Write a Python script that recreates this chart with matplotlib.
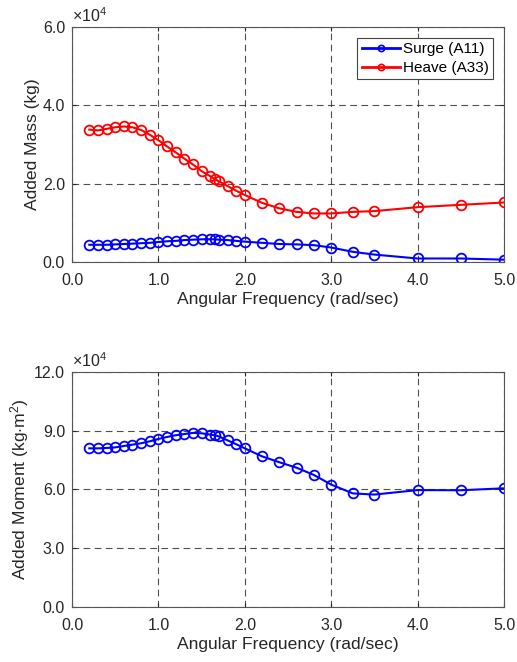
import numpy as np
import matplotlib.pyplot as plt
from matplotlib.ticker import FuncFormatter
from matplotlib.lines import Line2D

plt.rcParams['font.family'] = ['Liberation Sans', 'DejaVu Sans']
plt.rcParams['mathtext.fontset'] = 'custom'
plt.rcParams['mathtext.rm'] = 'Liberation Sans'
plt.rcParams['mathtext.it'] = 'Liberation Sans:italic'

# angular frequency (rad/sec)
omega = [0.2, 0.3, 0.4, 0.5, 0.6, 0.7, 0.8, 0.9, 1.0, 1.1, 1.2, 1.3, 1.4, 1.5,
         1.6, 1.65, 1.7, 1.8, 1.9, 2.0, 2.2, 2.4, 2.6, 2.8, 3.0, 3.25, 3.5,
         4.0, 4.5, 5.0]

# added mass, surge A11 (kg)
a11 = [4400, 4400, 4400, 4500, 4600, 4700, 4800, 4900, 5100, 5300, 5400, 5600,
       5700, 5800, 5800, 5800, 5700, 5600, 5400, 5200, 4900, 4600, 4500, 4300,
       3700, 2600, 1900, 900, 900, 600]

# added mass, heave A33 (kg)
a33 = [33800, 33600, 34000, 34400, 34600, 34400, 33700, 32500, 31100, 29500,
       28000, 26400, 24900, 23200, 21900, 21200, 20600, 19400, 18200, 17100,
       15100, 13700, 12800, 12400, 12400, 12800, 13000, 14000, 14600, 15200]

# added moment A55 (kg*m^2)
a55 = [81000, 81000, 81200, 81500, 82200, 82900, 83600, 84600, 85800, 86800,
       87700, 88300, 88900, 88700, 88000, 87700, 87100, 85100, 83100, 81000,
       76900, 73900, 71100, 67400, 62500, 58000, 57400, 59700, 59600, 60600]

fig = plt.figure(figsize=(5.17, 6.62), dpi=100)
ax1 = fig.add_axes([0.1393, 0.6042, 0.8356, 0.355])
ax2 = fig.add_axes([0.1393, 0.0831, 0.8356, 0.355])

txt = '#262626'
sci = FuncFormatter(lambda v, p: '%.1f' % (v / 1e4))
style = dict(marker='o', markersize=7, markerfacecolor='none',
             markeredgewidth=1.3, linewidth=1.5)

ax1.plot(omega, a11, color='#0000ff', **style)
ax1.plot(omega, a33, color='#ff0000', **style)
ax1.set_ylim(0, 60000)
ax1.set_yticks([0, 20000, 40000, 60000])
ax1.set_ylabel('Added Mass (kg)', fontsize=12.6, color=txt, labelpad=2)

# legend handles with smaller markers
handles = [Line2D([], [], color=c, marker='o', markersize=4.5,
                  markerfacecolor='none', markeredgewidth=1.2, linewidth=2)
           for c in ('#0000ff', '#ff0000')]
leg = ax1.legend(handles, ['Surge (A11)', 'Heave (A33)'], loc='upper right',
                 fontsize=11, fancybox=False, framealpha=1,
                 borderaxespad=0.7, handlelength=2.5, handletextpad=0.2,
                 labelspacing=0.3, borderpad=0.3)
leg.get_frame().set_edgecolor('#444444')
leg.get_frame().set_linewidth(0.8)

ax2.plot(omega, a55, color='#0000ff', **style)
ax2.set_ylim(0, 120000)
ax2.set_yticks([0, 30000, 60000, 90000, 120000])
ax2.set_ylabel('Added Moment (kg$\\cdot$m$^2$)', fontsize=12.6, color=txt,
               labelpad=2)

for ax in (ax1, ax2):
    ax.set_xlim(0, 5)
    ax.set_xticks([0, 1, 2, 3, 4, 5])
    ax.xaxis.set_major_formatter(FuncFormatter(lambda v, p: '%.1f' % v))
    ax.yaxis.set_major_formatter(sci)
    ax.set_xlabel('Angular Frequency (rad/sec)', fontsize=12.6, color=txt,
                  labelpad=3)
    ax.grid(True, linestyle=(0, (6, 4)), color='#303030', linewidth=0.8,
            alpha=0.85)
    ax.tick_params(direction='in', length=3, labelsize=11.5, colors=txt,
                   top=True, right=True)
    ax.tick_params(axis='x', pad=8)
    ax.tick_params(axis='y', pad=5)
    for s in ax.spines.values():
        s.set_color('#555555')
        s.set_linewidth(0.8)
    ax.text(0.0, 1.01, '$\\times$10$^4$', transform=ax.transAxes,
            fontsize=11.5, color=txt, va='bottom', ha='left')

fig.savefig('out.png', dpi=100)
